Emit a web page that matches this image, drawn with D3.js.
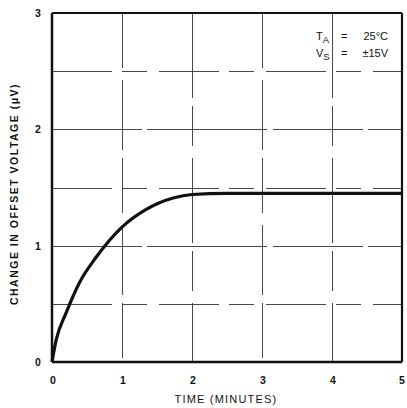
<!DOCTYPE html>
<html>
<head>
<meta charset="utf-8">
<script src="https://cdn.jsdelivr.net/npm/d3@7"></script>
<style>
  html, body { margin: 0; padding: 0; background: #fff; }
  svg { display: block; }
  text { font-family: "Liberation Sans", Arial, sans-serif; fill: #111; }
</style>
</head>
<body>
<svg id="chart" width="407" height="408"></svg>
<script>
// Settling curve: change in offset voltage vs. time after power-on
const timeMinutes = [0, 0.06, 0.2, 0.39, 0.63, 1.0, 1.34, 1.73, 2.0, 2.5, 3.0, 4.0, 5.0];
const offsetChange = [0, 0.19, 0.42, 0.68, 0.90, 1.16, 1.31, 1.41, 1.44, 1.45, 1.45, 1.45, 1.45];
const xTicks = [0, 1, 2, 3, 4, 5];
const yTicks = [0, 1, 2, 3];
const yGrid = [0.5, 1, 1.5, 2, 2.5];
const xGrid = [1, 2, 3, 4];
const conditions = [
  { sym: "T", sub: "A", val: "25°C" },
  { sym: "V", sub: "S", val: "±15V" }
];

const svg = d3.select("#chart");
const x = d3.scaleLinear().domain([0, 5]).range([52, 402]);
const y = d3.scaleLinear().domain([0, 3]).range([362, 13]);

// grid
const grid = svg.append("g").attr("stroke", "#333").attr("stroke-width", 0.9).attr("fill", "none");
grid.selectAll("line.h").data(yGrid).join("line")
  .attr("x1", x(0)).attr("x2", x(5))
  .attr("y1", d => Math.round(y(d)) + 0.5).attr("y2", d => Math.round(y(d)) + 0.5)
  .attr("stroke-dasharray", d => Number.isInteger(d) ? "90 5 120 6" : "60 10 25 12");
grid.selectAll("line.v").data(xGrid).join("line")
  .attr("y1", y(3)).attr("y2", y(0))
  .attr("x1", d => Math.round(x(d)) + 0.5).attr("x2", d => Math.round(x(d)) + 0.5)
  .attr("stroke-dasharray", d => d % 2 ? "55 12 70 8" : "85 8 40 12");

// frame
const frame = svg.append("g").attr("stroke", "#111").attr("fill", "none");
frame.append("line").attr("x1", x(0)).attr("x2", x(0)).attr("y1", y(3)).attr("y2", y(0)).attr("stroke-width", 2.5);
frame.append("line").attr("x1", x(0)).attr("x2", x(5)).attr("y1", y(0)).attr("y2", y(0)).attr("stroke-width", 2.5);
frame.append("line").attr("x1", x(0)).attr("x2", x(5)).attr("y1", y(3)).attr("y2", y(3)).attr("stroke-width", 2.2);
frame.append("line").attr("x1", x(5)).attr("x2", x(5)).attr("y1", y(3)).attr("y2", y(0)).attr("stroke-width", 2.2);

// tick labels
svg.append("g").selectAll("text").data(yTicks).join("text")
  .attr("x", 38).attr("y", d => y(d) + 4)
  .attr("text-anchor", "middle")
  .style("font-size", "10.5px").style("font-weight", "bold")
  .text(d => d);
svg.append("g").selectAll("text").data(xTicks).join("text")
  .attr("x", d => Math.min(x(d) + 1, 402)).attr("y", 384)
  .attr("text-anchor", "middle")
  .style("font-size", "10.5px").style("font-weight", "bold")
  .text(d => d);

// axis titles
svg.append("text")
  .attr("x", 226).attr("y", 403)
  .attr("text-anchor", "middle")
  .style("font-size", "11px")
  .style("letter-spacing", "1.2px")
  .text("TIME (MINUTES)");
svg.append("text")
  .attr("transform", "translate(18,194) rotate(-90)")
  .attr("text-anchor", "middle")
  .style("font-size", "10.5px")
  .style("font-weight", "bold")
  .style("letter-spacing", "1.5px")
  .text("CHANGE IN OFFSET VOLTAGE (μV)");

// test conditions
const cond = svg.append("g").style("font-size", "11px");
conditions.forEach((c, i) => {
  const by = 40 + i * 17;
  const t = cond.append("text").attr("x", 316).attr("y", by);
  t.append("tspan").text(c.sym);
  t.append("tspan").attr("dy", 3).style("font-size", "9.5px").text(c.sub);
  cond.append("text").attr("x", 341).attr("y", by).text("=");
  cond.append("text").attr("x", 388).attr("y", by).attr("text-anchor", "end").text(c.val);
});

// curve
const line = d3.line()
  .x((d, i) => x(timeMinutes[i]))
  .y(d => y(d))
  .curve(d3.curveMonotoneX);
svg.append("path")
  .datum(offsetChange)
  .attr("d", line)
  .attr("fill", "none")
  .attr("stroke", "#111")
  .attr("stroke-width", 3.2);
</script>
</body>
</html>
